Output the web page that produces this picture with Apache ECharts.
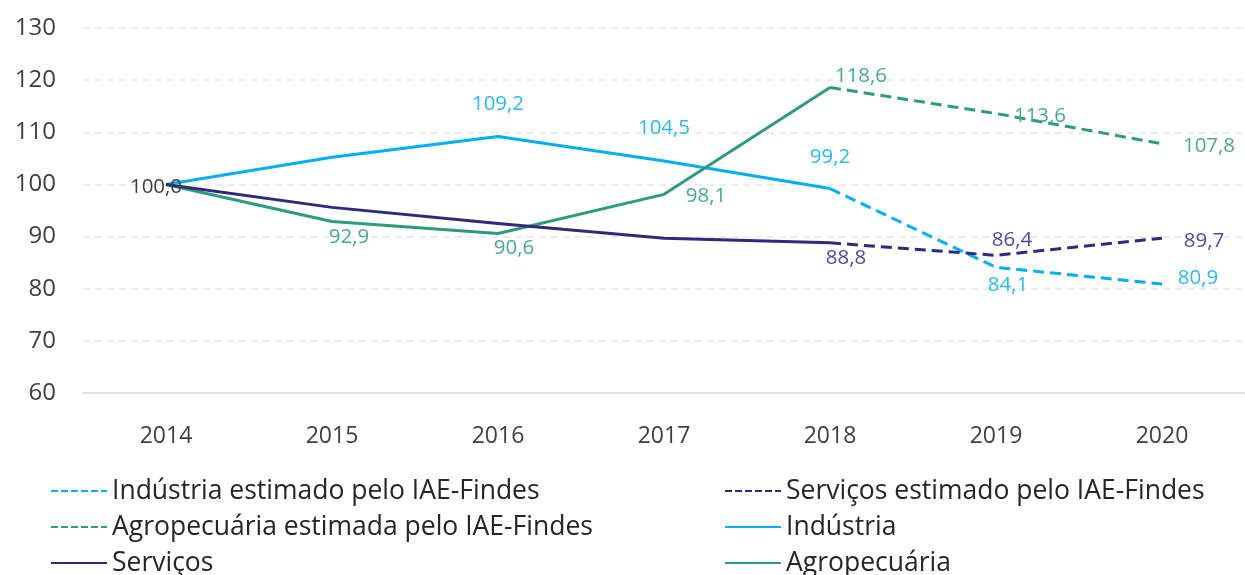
<!DOCTYPE html>
<html>
<head>
<meta charset="utf-8">
<script src="https://cdn.jsdelivr.net/npm/echarts@6/dist/echarts.min.js"></script>
<style>
  html, body { margin: 0; padding: 0; background: #fff; }
  #chart { width: 1245px; height: 575px; }
</style>
</head>
<body>
<div id="chart"></div>
<script>
// dados
var years = ['2014', '2015', '2016', '2017', '2018', '2019', '2020'];
var industria = [100.0, 105.2, 109.2, 104.5, 99.2, null, null];
var industriaEst = [null, null, null, null, 99.2, 84.1, 80.9];
var servicos = [100.0, 95.6, 92.5, 89.7, 88.8, null, null];
var servicosEst = [null, null, null, null, 88.8, 86.4, 89.7];
var agro = [100.0, 92.9, 90.6, 98.1, 118.6, null, null];
var agroEst = [null, null, null, null, 118.6, 113.6, 107.8];

var FONT = '"Open Sans", "Noto Sans", sans-serif';
var C_IND = '#00b0f0', C_SER = '#2e2a7c', C_AGR = '#2e9a82';
var L_IND = '#2bb9ee', L_SER = '#514b98', L_AGR = '#4aa893';

// quais rótulos aparecem e onde (offset a partir do ponto)
var labelPlaces = {
    ind:    { 2: [0, -32], 3: [0, -33], 4: [0, -31] },
    indEst: { 5: [12, 18], 6: [36, -6] },
    ser:    { 0: [-10, 3, '#404040'], 4: [16, 15] },
    serEst: { 5: [16, -15], 6: [42, 3] },
    agr:    { 1: [17, 16], 2: [16, 15], 3: [42, 2], 4: [31, -11] },
    agrEst: { 5: [44, 3], 6: [47, 2] }
};

function fmt(v) { return v.toFixed(1).replace('.', ','); }

function buildData(values, places, color) {
    return values.map(function (v, i) {
        var p = places[i];
        if (v == null) return null;
        if (!p) return { value: v, label: { show: false } };
        return {
            value: v,
            label: {
                show: true,
                position: 'inside',
                offset: [p[0], p[1]],
                color: p[2] || color,
                fontSize: 20.5,
                fontFamily: FONT,
                formatter: function (d) { return fmt(d.value); }
            }
        };
    });
}

function lineSeries(name, values, places, color, labelColor, dashed) {
    return {
        name: name,
        type: 'line',
        data: buildData(values, places, labelColor),
        symbol: 'circle',
        symbolSize: 0,
        showSymbol: true,
        connectNulls: false,
        lineStyle: { color: color, width: 3, type: dashed ? [11, 6] : 'solid', cap: 'butt', join: 'round' },
        itemStyle: { color: color },
        emphasis: { disabled: true },
        animation: false
    };
}

function legendItem(name, dashed) {
    return dashed ? { name: name, lineStyle: { type: [7, 3] } } : { name: name };
}

var chart = echarts.init(document.getElementById('chart'));

var legendText = { fontSize: 26.5, fontFamily: FONT, color: '#262626', lineHeight: 28 };
var legendBase = {
    orient: 'vertical',
    top: 477,
    height: 200,
    padding: 0,
    itemWidth: 56,
    itemHeight: 14,
    itemGap: 8,
    itemStyle: { opacity: 0 },
    textStyle: legendText
};

chart.setOption({
    backgroundColor: '#fff',
    grid: { left: 83, right: -9, top: 28, bottom: 182 },
    xAxis: {
        type: 'category',
        data: years,
        boundaryGap: true,
        axisLine: { lineStyle: { color: '#d9d9d9', width: 1.5 } },
        axisTick: { show: false },
        axisLabel: { margin: 32, fontSize: 23, fontFamily: FONT, color: '#404040' }
    },
    yAxis: {
        type: 'value',
        min: 60,
        max: 130,
        interval: 10,
        axisLine: { show: false },
        axisTick: { show: false },
        axisLabel: { margin: 27, fontSize: 24, fontFamily: FONT, color: '#404040' },
        splitLine: { lineStyle: { color: '#e8e8e8', width: 1.5, type: [7, 5] } }
    },
    legend: [
        Object.assign({}, legendBase, {
            left: 50,
            data: [
                legendItem('Indústria estimado pelo IAE-Findes', true),
                legendItem('Agropecuária estimada pelo IAE-Findes', true),
                legendItem('Serviços', false)
            ]
        }),
        Object.assign({}, legendBase, {
            left: 724,
            data: [
                legendItem('Serviços estimado pelo IAE-Findes', true),
                legendItem('Indústria', false),
                legendItem('Agropecuária', false)
            ]
        })
    ],
    series: [
        lineSeries('Indústria estimado pelo IAE-Findes', industriaEst, labelPlaces.indEst, C_IND, L_IND, true),
        lineSeries('Serviços estimado pelo IAE-Findes', servicosEst, labelPlaces.serEst, C_SER, L_SER, true),
        lineSeries('Agropecuária estimada pelo IAE-Findes', agroEst, labelPlaces.agrEst, C_AGR, L_AGR, true),
        lineSeries('Indústria', industria, labelPlaces.ind, C_IND, L_IND, false),
        lineSeries('Agropecuária', agro, labelPlaces.agr, C_AGR, L_AGR, false),
        lineSeries('Serviços', servicos, labelPlaces.ser, C_SER, L_SER, false)
    ]
});
</script>
</body>
</html>
